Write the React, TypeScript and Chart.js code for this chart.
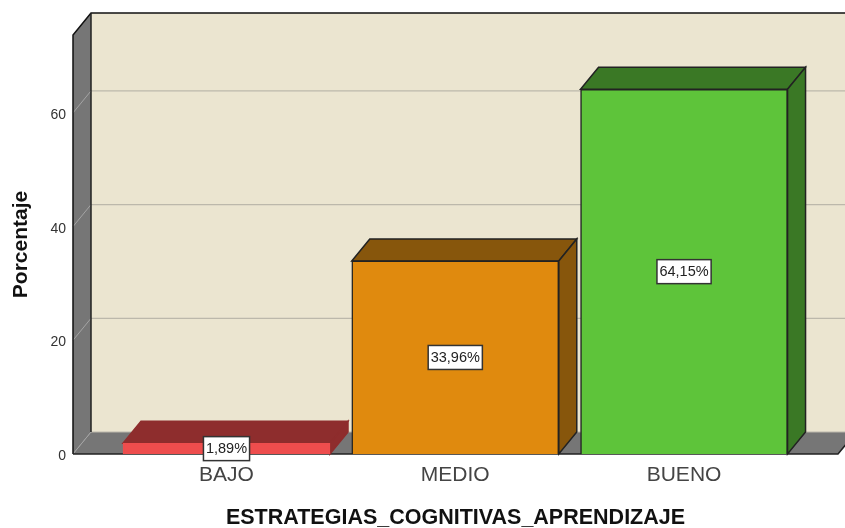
import React, { useEffect, useRef } from "react";
import { Chart, registerables } from "chart.js";

Chart.register(...registerables);

const categories = ["BAJO", "MEDIO", "BUENO"];
const percentages = [1.89, 33.96, 64.15];
const valueLabels = ["1,89%", "33,96%", "64,15%"];
const frontColors = ["#EE4D4D", "#E08A0E", "#5EC43A"];
const shadeColors = ["#8E2D2D", "#87560C", "#3A7825"];
const edgeColors = ["#8E2D2D", "#222222", "#222222"];
const yTicks = [0, 20, 40, 60];

const DX = 18;
const DY = -22;
const LABEL_NUDGE = 0.4;
const FONT = '"Liberation Sans", Arial, sans-serif';

function poly(ctx: CanvasRenderingContext2D, pts: number[][], fill: string | null, stroke: string | null, lw = 1) {
  ctx.beginPath();
  pts.forEach((p, i) => (i ? ctx.lineTo(p[0], p[1]) : ctx.moveTo(p[0], p[1])));
  if (fill) {
    ctx.closePath();
    ctx.fillStyle = fill;
    ctx.fill();
  }
  if (stroke) {
    ctx.strokeStyle = stroke;
    ctx.lineWidth = lw;
    ctx.stroke();
  }
}

const box3d = {
  id: "box3d",
  beforeDatasetsDraw(chart: any) {
    const { ctx, chartArea: a, scales } = chart;
    const y = scales.y;
    const L = a.left, R = a.right, T = a.top, B = a.bottom;
    const far = chart.width + 40;
    ctx.save();
    poly(ctx, [[L + DX, T + DY], [far, T + DY], [far, B + DY], [L + DX, B + DY]], "#EBE5D0", null);
    poly(ctx, [[L, T], [L + DX, T + DY], [L + DX, B + DY], [L, B]], "#767676", null);
    poly(ctx, [[L, B], [L + DX, B + DY], [R + DX, B + DY], [R, B]], "#767676", null);
    yTicks.slice(1).forEach((t) => {
      const p = y.getPixelForValue(t);
      poly(ctx, [[L, p], [L + DX, p + DY]], null, "#A4A4A4", 1);
      poly(ctx, [[L + DX, p + DY], [far, p + DY]], null, "#BCB8AB", 1.2);
    });
    poly(ctx, [[L, B], [L + DX, B + DY]], null, "#A4A4A4", 1);
    poly(ctx, [[L + DX, B + DY], [far, B + DY]], null, "#BCB8AB", 1.2);
    poly(ctx, [[L, B], [L, T], [L + DX, T + DY], [far, T + DY]], null, "#111111", 1.5);
    poly(ctx, [[L + DX, T + DY], [L + DX, B + DY]], null, "#222222", 1.5);
    poly(ctx, [[L, B], [R, B], [R + DX, B + DY]], null, "#222222", 1.5);

    const meta = chart.getDatasetMeta(0);
    meta.data.forEach((bar: any, i: number) => {
      const l = bar.x - bar.width / 2;
      const r = bar.x + bar.width / 2;
      const top = bar.y;
      const base = bar.base;
      const shade = shadeColors[i];
      const edge = edgeColors[i];
      poly(ctx, [[l, top], [l + DX, top + DY], [r + DX, top + DY], [r, top]], shade, edge, 1.5);
      poly(ctx, [[r, top], [r + DX, top + DY], [r + DX, base + DY], [r, base]], shade, edge, 1.5);
    });
    ctx.restore();
  },
  afterDatasetsDraw(chart: any) {
    const { ctx } = chart;
    const meta = chart.getDatasetMeta(0);
    ctx.save();
    ctx.font = `14.5px ${FONT}`;
    ctx.textAlign = "center";
    ctx.textBaseline = "middle";
    meta.data.forEach((bar: any, i: number) => {
      const cy = (bar.y + bar.base) / 2;
      const w = ctx.measureText(valueLabels[i]).width + 5;
      const h = 24;
      const x = bar.x - w / 2;
      const yy = cy - h / 2;
      ctx.fillStyle = "#FFFFFF";
      ctx.fillRect(x, yy, w, h);
      ctx.strokeStyle = "#333333";
      ctx.lineWidth = 1.5;
      ctx.strokeRect(x, yy, w, h);
      ctx.fillStyle = "#222222";
      ctx.fillText(valueLabels[i], bar.x, cy + 0.5);
    });
    ctx.restore();
  },
};

export default function App() {
  const ref = useRef<HTMLCanvasElement>(null);
  useEffect(() => {
    const chart = new Chart(ref.current as HTMLCanvasElement, {
      type: "bar",
      plugins: [box3d],
      data: {
        datasets: [
          {
            data: percentages.map((v, i) => ({ x: i, y: v })),
            backgroundColor: frontColors,
            borderColor: edgeColors.map((c, i) => (i === 0 ? frontColors[0] : c)),
            borderWidth: 1.5,
            barThickness: 207,
          },
        ],
      },
      options: {
        responsive: false,
        animation: false,
        layout: { padding: { top: 35, right: 7, left: 0, bottom: 0 } },
        plugins: { legend: { display: false }, tooltip: { enabled: false } },
        scales: {
          x: {
            type: "linear",
            offset: false,
            min: -0.671,
            max: 2.673,
            grid: { display: false },
            border: { display: false },
            afterBuildTicks(s: any) {
              s.ticks = categories.map((_, i) => ({ value: i }));
            },
            afterFit(s: any) {
              s.height = 74;
            },
            ticks: {
              callback: (v: any) => categories[v],
              font: { family: FONT, size: 21 },
              color: "#444444",
              padding: 1,
              maxRotation: 0,
              autoSkip: false,
            },
            title: {
              display: true,
              text: "ESTRATEGIAS_COGNITIVAS_APRENDIZAJE",
              font: { family: FONT, size: 21.5, weight: "bold" },
              color: "#111111",
              padding: { top: 0, bottom: -3 },
            },
          },
          y: {
            min: 0,
            max: 73.7,
            grid: { display: false, drawTicks: false },
            border: { display: false },
            afterBuildTicks(s: any) {
              s.ticks = yTicks.map((v) => ({ value: v - LABEL_NUDGE }));
            },
            afterFit(s: any) {
              s.width = 73;
            },
            ticks: {
              callback: (_: any, i: number) => String(yTicks[i]),
              font: { family: FONT, size: 14 },
              color: "#333333",
              padding: 7,
            },
            title: {
              display: true,
              text: "Porcentaje",
              font: { family: FONT, size: 21, weight: "bold" },
              color: "#111111",
              padding: { top: 9, bottom: 0 },
            },
          },
        },
      },
    } as any);
    return () => chart.destroy();
  }, []);
  return (
    <div style={{ position: "fixed", left: 0, top: 0, width: 845, height: 528, background: "#fff" }}>
      <canvas ref={ref} width={845} height={528} style={{ display: "block" }} />
    </div>
  );
}
